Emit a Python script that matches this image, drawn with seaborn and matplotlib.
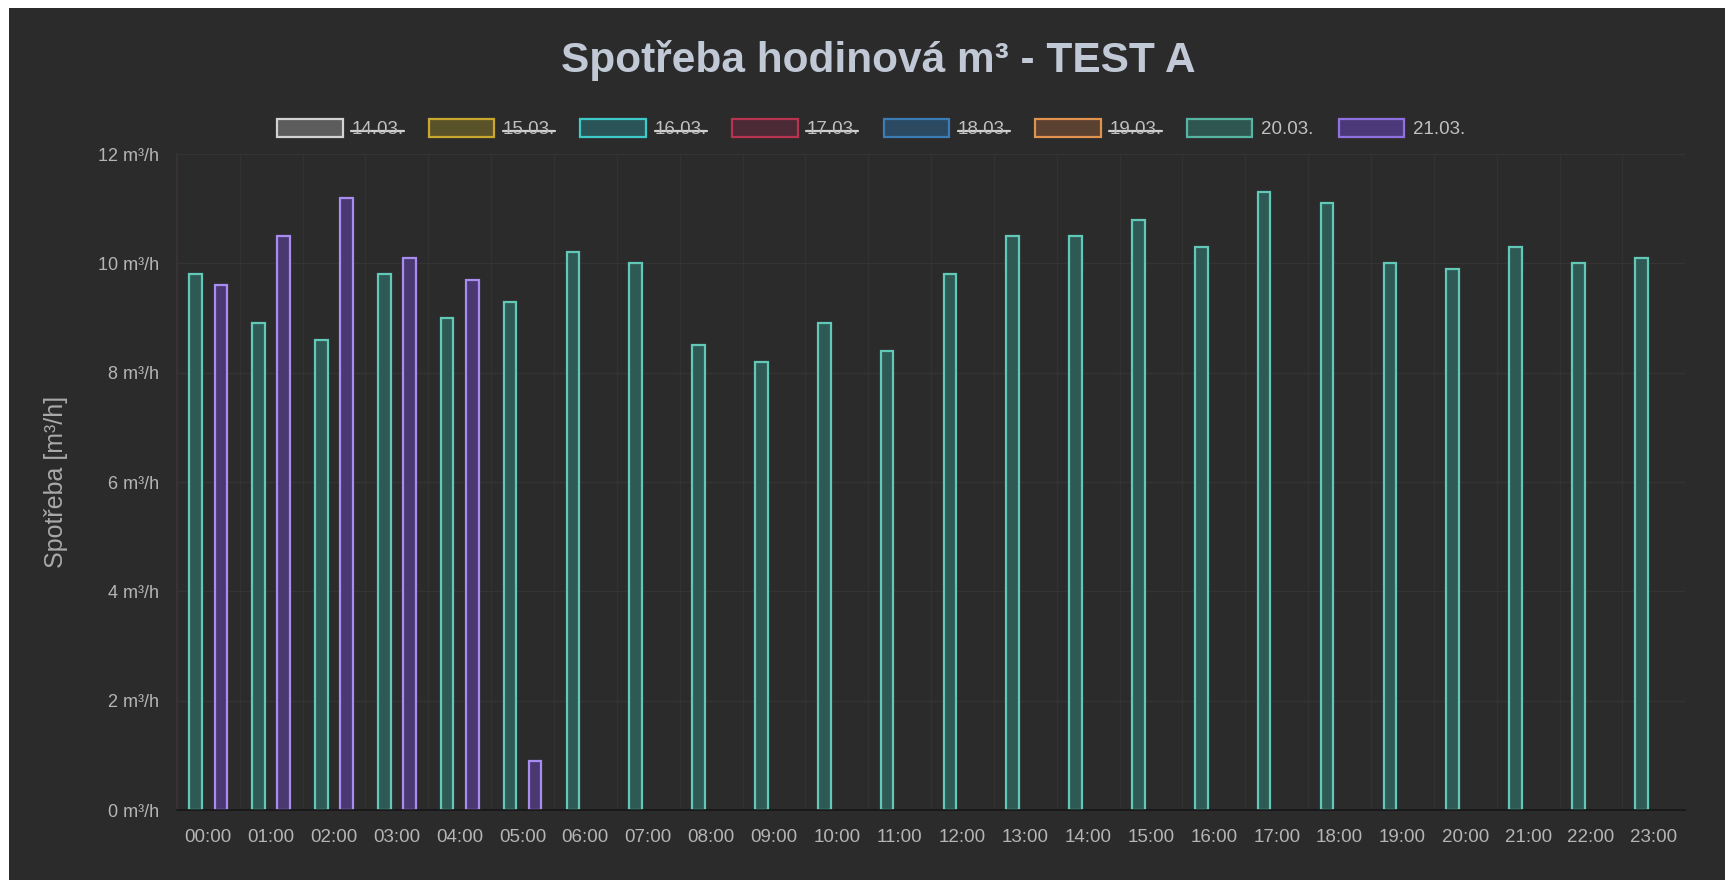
import seaborn as sns
import matplotlib.pyplot as plt
import pandas as pd
from matplotlib.patches import Patch, Rectangle
from matplotlib.lines import Line2D

# data
hours = ['%02d:00' % h for h in range(24)]
day_20 = [9.8, 8.9, 8.6, 9.8, 9.0, 9.3, 10.2, 10.0, 8.5, 8.2, 8.9, 8.4,
          9.8, 10.5, 10.5, 10.8, 10.3, 11.3, 11.1, 10.0, 9.9, 10.3, 10.0, 10.1]
day_21 = [9.6, 10.5, 11.2, 10.1, 9.7, 0.9]
legend_days = ['14.03.', '15.03.', '16.03.', '17.03.', '18.03.', '19.03.', '20.03.', '21.03.']
hidden_days = ['14.03.', '15.03.', '16.03.', '17.03.', '18.03.', '19.03.']
y_ticks = [0, 2, 4, 6, 8, 10, 12]

# styles
BG = '#2b2b2b'
edge_cols = ['#d2d2d2', '#c9a832', '#3fcaca', '#b8334f', '#3c7cb4', '#e0924f', '#55b4a2', '#9070e0']
face_cols = ['#5c5c5c', '#5a5228', '#2a5457', '#4c2a35', '#2b4a62', '#5b4130', '#2e5751', '#4a3878']
bar_edge = {'20.03.': '#62c8b8', '21.03.': '#a88cf0'}
bar_face = {'20.03.': '#2e5954', '21.03.': '#4a3872'}

rows = [(h, '20.03.', v) for h, v in zip(hours, day_20)]
rows += [(h, '21.03.', v) for h, v in zip(hours, day_21)]
df = pd.DataFrame(rows, columns=['hodina', 'den', 'spotreba'])

sns.set_theme(style="dark")
plt.rcParams['font.family'] = ['Liberation Sans', 'DejaVu Sans']

fig = plt.figure(figsize=(17.25, 8.8), dpi=100, facecolor=BG)
ax = fig.add_axes([0.1025, 0.0795, 0.8745, 0.7455])
ax.set_facecolor(BG)

sns.barplot(data=df, x='hodina', y='spotreba', hue='den', order=hours,
            hue_order=['20.03.', '21.03.'], errorbar=None, width=0.8, gap=0.5,
            legend=False, ax=ax)

for cont, day in zip(ax.containers, ['20.03.', '21.03.']):
    for p in cont.patches:
        p.set_facecolor(bar_face[day])
        p.set_edgecolor(bar_edge[day])
        p.set_linewidth(1.6)

ax.set_ylim(0, 12)
ax.set_yticks(y_ticks)
ax.set_yticklabels(['%d m³/h' % v for v in y_ticks])
ax.set_xlabel('')
ax.set_ylabel('Spotřeba [m³/h]', fontsize=18, color='#a9a9a9')
ax.yaxis.set_label_coords(-0.08, 0.5)
ax.yaxis.label.set_verticalalignment('center')

ax.tick_params(axis='y', length=0, pad=13, labelsize=13, labelcolor='#b5b5b5')
ax.tick_params(axis='x', length=6, color='#363232', pad=8, labelsize=13.5, labelcolor='#b5b5b5')

# grid: horizontal lines + vertical category boundaries
ax.set_axisbelow(True)
ax.yaxis.grid(True, color='#343434', linewidth=1)
ax.set_xticks([i + 0.5 for i in range(len(hours))], minor=True)
ax.xaxis.grid(True, which='minor', color='#353131', linewidth=1)
ax.xaxis.grid(False, which='major')
ax.tick_params(axis='x', which='minor', length=6, color='#353131')
for s in ['top', 'right']:
    ax.spines[s].set_visible(False)
ax.spines['left'].set_color('#3a3434')
ax.spines['bottom'].set_color('#161616')
ax.spines['bottom'].set_linewidth(1.2)

fig.text(0.509, 0.918, 'Spotřeba hodinová m³ - TEST A', ha='center', va='baseline',
         fontsize=30.5, fontweight='bold', color='#c2c9d6')

handles = [Patch(facecolor=f, edgecolor=e, linewidth=1.6) for f, e in zip(face_cols, edge_cols)]
leg = fig.legend(handles, legend_days, loc='center', bbox_to_anchor=(0.505, 0.854), ncol=8,
                 frameon=False, fontsize=13.5, handlelength=3.5, handleheight=1.15,
                 handletextpad=0.45, columnspacing=1.35, labelcolor='#c0c0c0')

# white strip at top/left like the screenshot
fig.patches.append(Rectangle((0, 1 - 8 / 880), 1, 8 / 880, transform=fig.transFigure,
                             facecolor='white', edgecolor='none', zorder=10))
fig.patches.append(Rectangle((0, 0), 9 / 1725, 1, transform=fig.transFigure,
                             facecolor='white', edgecolor='none', zorder=10))

# strike through hidden datasets in the legend
fig.canvas.draw()
r = fig.canvas.get_renderer()
W, H = fig.bbox.width, fig.bbox.height
for t in leg.get_texts():
    if t.get_text() in hidden_days:
        bb = t.get_window_extent(r)
        y = bb.y0 + bb.height * 0.42
        fig.add_artist(Line2D([bb.x0 / W, bb.x1 / W], [y / H, y / H], transform=fig.transFigure,
                              color='#d0d0d0', linewidth=1.6))

fig.savefig('out.png', dpi=100, facecolor=BG)
